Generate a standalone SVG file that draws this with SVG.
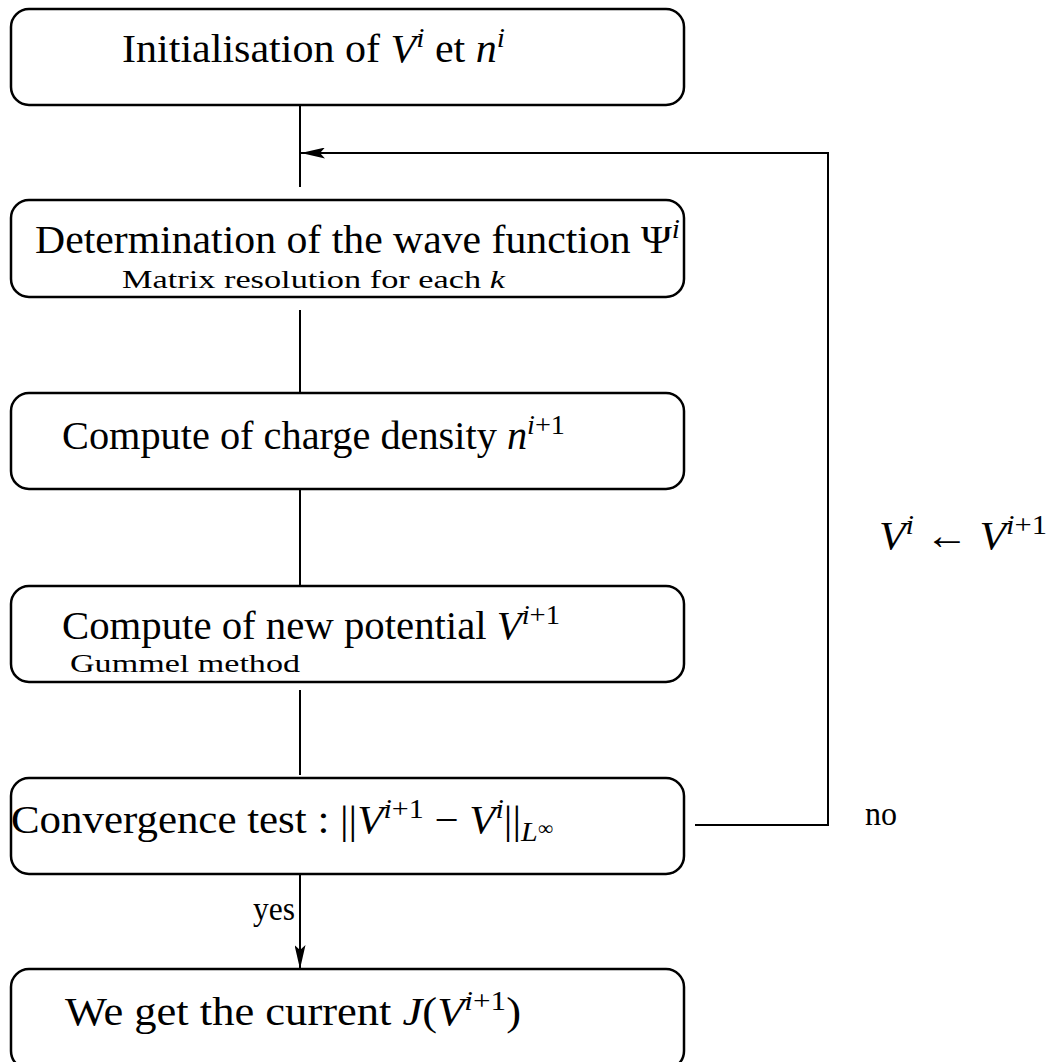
<svg xmlns="http://www.w3.org/2000/svg" width="1053" height="1062" viewBox="0 0 1053 1062">
<style>
.box{fill:none;stroke:#000;stroke-width:2.5}
.ln{fill:none;stroke:#000;stroke-width:2}
.t{font-family:"Liberation Serif","DejaVu Serif",serif;font-size:40px;fill:#000}
.s{font-family:"Liberation Serif","DejaVu Serif",serif;font-size:26px;fill:#000}
.m{font-style:italic}
.sup{font-size:28px}
.lab{font-family:"Liberation Serif","Times New Roman",serif;font-size:34px;fill:#000}
</style>
<defs>
<marker id="ah" markerWidth="24" markerHeight="11" refX="24" refY="5.5" orient="auto" markerUnits="userSpaceOnUse">
<path d="M0,0 L24,5.5 L0,11 L5,5.5 Z" fill="#000"/>
</marker>
</defs>
<g id="n1">
<rect class="box" x="11" y="9" width="673" height="96" rx="18"/>
<text class="t" x="122" y="62" textLength="383" lengthAdjust="spacingAndGlyphs">Initialisation of <tspan class="m">V</tspan><tspan class="m sup" dy="-15">i</tspan><tspan dy="15"> et </tspan><tspan class="m">n</tspan><tspan class="m sup" dy="-15">i</tspan></text>
</g>
<g id="n2">
<rect class="box" x="11" y="200" width="673" height="97" rx="18"/>
<text class="t" x="35" y="253" textLength="645" lengthAdjust="spacingAndGlyphs">Determination of the wave function Ψ<tspan class="m sup" dy="-15">i</tspan></text>
<text class="s" x="122" y="288" textLength="383" lengthAdjust="spacingAndGlyphs">Matrix resolution for each <tspan class="m">k</tspan></text>
</g>
<g id="n3">
<rect class="box" x="11" y="393" width="673" height="96" rx="18"/>
<text class="t" x="62" y="449" textLength="503" lengthAdjust="spacingAndGlyphs">Compute of charge density <tspan class="m">n</tspan><tspan class="sup" dy="-15"><tspan class="m">i</tspan>+1</tspan></text>
</g>
<g id="n4">
<rect class="box" x="11" y="586" width="673" height="96" rx="18"/>
<text class="t" x="62" y="639" textLength="498" lengthAdjust="spacingAndGlyphs">Compute of new potential <tspan class="m">V</tspan><tspan class="sup" dy="-15"><tspan class="m">i</tspan>+1</tspan></text>
<text class="s" x="70" y="672" textLength="230" lengthAdjust="spacingAndGlyphs">Gummel method</text>
</g>
<g id="n5">
<rect class="box" x="11" y="778" width="673" height="96" rx="18"/>
<text class="t" x="11" y="833" textLength="542" lengthAdjust="spacingAndGlyphs">Convergence test : ||<tspan class="m">V</tspan><tspan class="sup" dy="-15"><tspan class="m">i</tspan>+1</tspan><tspan dy="15"> − </tspan><tspan class="m">V</tspan><tspan class="m sup" dy="-15">i</tspan><tspan dy="15">||</tspan><tspan class="m sup" dy="8">L</tspan><tspan font-size="20" dy="-6">∞</tspan></text>
</g>
<g id="n6">
<rect class="box" x="11" y="969" width="673" height="100" rx="18"/>
<text class="t" x="65" y="1025" textLength="456" lengthAdjust="spacingAndGlyphs">We get the current <tspan class="m">J</tspan>(<tspan class="m">V</tspan><tspan class="sup" dy="-15"><tspan class="m">i</tspan>+1</tspan><tspan dy="15">)</tspan></text>
</g>
<g id="connectors">
<line class="ln" x1="300" y1="105" x2="300" y2="187"/>
<line class="ln" x1="300" y1="310" x2="300" y2="393"/>
<line class="ln" x1="300" y1="489" x2="300" y2="586"/>
<line class="ln" x1="300" y1="690" x2="300" y2="775"/>
<line class="ln" x1="300" y1="874" x2="300" y2="969" marker-end="url(#ah)"/>
<polyline class="ln" points="695,825 828,825 828,153 301,153" marker-end="url(#ah)"/>
<text class="lab" x="253" y="920" textLength="42" lengthAdjust="spacingAndGlyphs">yes</text>
<text class="lab" x="865" y="825" textLength="32" lengthAdjust="spacingAndGlyphs">no</text>
<text class="t" x="879" y="549" textLength="168" lengthAdjust="spacingAndGlyphs"><tspan class="m">V</tspan><tspan class="m sup" dy="-15">i</tspan><tspan dy="15"> ← </tspan><tspan class="m">V</tspan><tspan class="sup" dy="-15"><tspan class="m">i</tspan>+1</tspan></text>
</g>
</svg>
